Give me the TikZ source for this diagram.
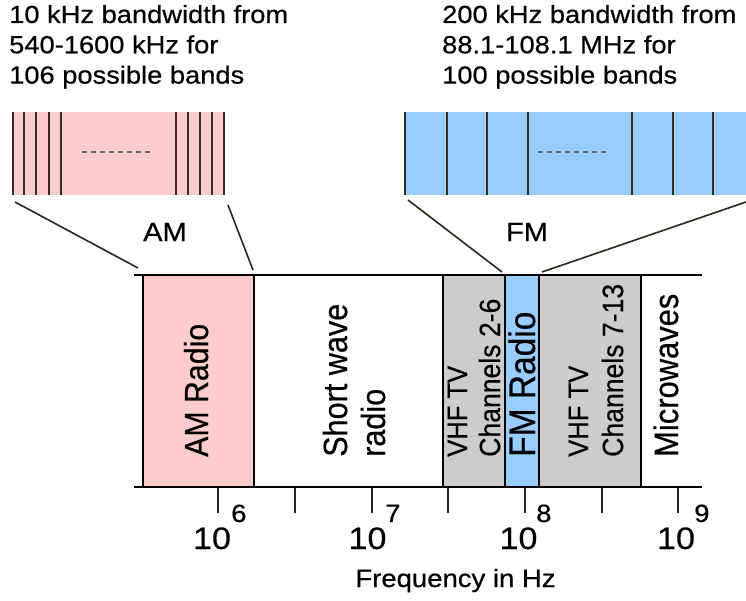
\documentclass[tikz,border=0pt]{standalone}
\usepackage{fontspec}
\usepackage{graphicx}
\setmainfont[FakeBold=0.5]{Liberation Sans}
\newfontfamily\hfont[FakeStretch=1.1,FakeBold=0.5]{Liberation Sans}
\definecolor{ampink}{RGB}{255,204,204}
\definecolor{fmblue}{RGB}{153,204,255}
\definecolor{tvgray}{RGB}{204,204,204}
\definecolor{linkline}{RGB}{45,38,22}
\definecolor{chanline}{RGB}{50,45,40}
\newcommand{\vtxt}[2]{\scalebox{1}[1.1]{\fontsize{#1}{#1}\selectfont #2}}
\begin{document}
\begin{tikzpicture}[x=1pt,y=-1pt,
  htext/.style={inner sep=0pt, anchor=base west, font=\hfont\fontsize{24.8}{30}\selectfont},
  vtext/.style={inner sep=0pt, rotate=90, anchor=base west},
  bigtext/.style={inner sep=0pt, font=\hfont\fontsize{26.5}{30}\selectfont},
  tenlbl/.style={inner sep=0pt, anchor=base, font=\hfont\fontsize{31}{32}\selectfont},
  explbl/.style={inner sep=0pt, anchor=base west, font=\hfont\fontsize{25}{26}\selectfont},
  bandborder/.style={draw=black, line width=1.4pt},
  edge/.style={draw=black, line width=2.8pt},
  chan/.style={draw=chanline, line width=1.8pt},
  link/.style={draw=linkline, line width=1.6pt},
  axtick/.style={draw=black!85, line width=1.5pt},
  dots/.style={draw=black!60, line width=1.5pt, dash pattern=on 5pt off 4pt}
]
\useasboundingbox (0,0) rectangle (746,601);

% ---- top descriptions
\node[htext] (amt1) at (9,23) {10 kHz bandwidth from};
\node[htext] (amt2) at (9,53.3) {540-1600 kHz for};
\node[htext] (amt3) at (9,83.6) {106 possible bands};
\node[htext] (fmt1) at (442,23) {200 kHz bandwidth from};
\node[htext] (fmt2) at (442,53.3) {88.1-108.1 MHz for};
\node[htext] (fmt3) at (442,83.6) {100 possible bands};

% ---- AM detail box
\fill[ampink] (13,112) rectangle (224,195);
\foreach \xx in {13,24,36,49,61,176,188,200,212,224}
  \draw[chan] (\xx,112) -- (\xx,195);
\draw[dots] (82,152) -- (152,152);

% ---- FM detail box
\fill[fmblue] (405,112) rectangle (746,195);
\foreach \xx in {405,447,487,528,632,673,713}
  \draw[chan] (\xx,112) -- (\xx,195);
\draw[dots] (538,152) -- (610,152);

% ---- labels AM / FM
\node[bigtext] (amlbl) at (165,232) {AM};
\node[bigtext] (fmlbl) at (527,232) {FM};

% ---- connectors
\coordinate (amL1) at (15,202);
\coordinate (amL2) at (138,268);
\coordinate (amR1) at (228,205);
\coordinate (amR2) at (253,270);
\coordinate (fmL1) at (408,200);
\coordinate (fmL2) at (502,272);
\coordinate (fmR1) at (746,202);
\coordinate (fmR2) at (542,272);
\draw[link] (amL1) -- (amL2);
\draw[link] (amR1) -- (amR2);
\draw[link] (fmL1) -- (fmL2);
\draw[link] (fmR1) -- (fmR2);

% ---- spectrum bands
\fill[ampink] (143,275) rectangle (254,487);
\fill[tvgray] (443,275) rectangle (505,487);
\fill[fmblue] (505,275) rectangle (539,487);
\fill[tvgray] (539,275) rectangle (641,487);
\foreach \xx in {143,254,443,505,539,641}
  \draw[bandborder] (\xx,275) -- (\xx,487);
\draw[edge] (134,275) -- (702,275);
\draw[edge] (134,487) -- (702,487);

% ---- band texts
\node[vtext] (amr) at (208,457) {\vtxt{30.3}{AM Radio}};
\node[vtext] (sw1) at (347,457) {\vtxt{30.6}{Short wave}};
\node[vtext] (sw2) at (385,457) {\vtxt{30.6}{radio}};
\node[vtext] (vhf1) at (467,457) {\vtxt{25.6}{VHF TV}};
\node[vtext] (ch1) at (500,457) {\vtxt{26.6}{Channels 2-6}};
\node[vtext] (fmr) at (535,457) {\vtxt{33.5}{FM Radio}};
\node[vtext] (vhf2) at (588,457) {\vtxt{25.6}{VHF TV}};
\node[vtext] (ch2) at (623,457) {\vtxt{26.6}{Channels 7-13}};
\node[vtext] (mw) at (678,457) {\vtxt{30.9}{Microwaves}};

% ---- axis ticks
\foreach \xx in {218,295,372,448,525,602,678}
  \draw[axtick] (\xx,488) -- (\xx,513);

% ---- axis labels
\node[tenlbl] (t6) at (212,549) {10};
\node[explbl] (e6) at (231,522) {6};
\node[tenlbl] (t7) at (367.5,549) {10};
\node[explbl] (e7) at (385,522) {7};
\node[tenlbl] (t8) at (518.5,549) {10};
\node[explbl] (e8) at (536,522) {8};
\node[tenlbl] (t9) at (676,549) {10};
\node[explbl] (e9) at (694,522) {9};

\node[inner sep=0pt, anchor=base, font=\hfont\fontsize{25}{28}\selectfont] (freq) at (455.5,587) {Frequency in Hz};
\end{tikzpicture}
\end{document}
